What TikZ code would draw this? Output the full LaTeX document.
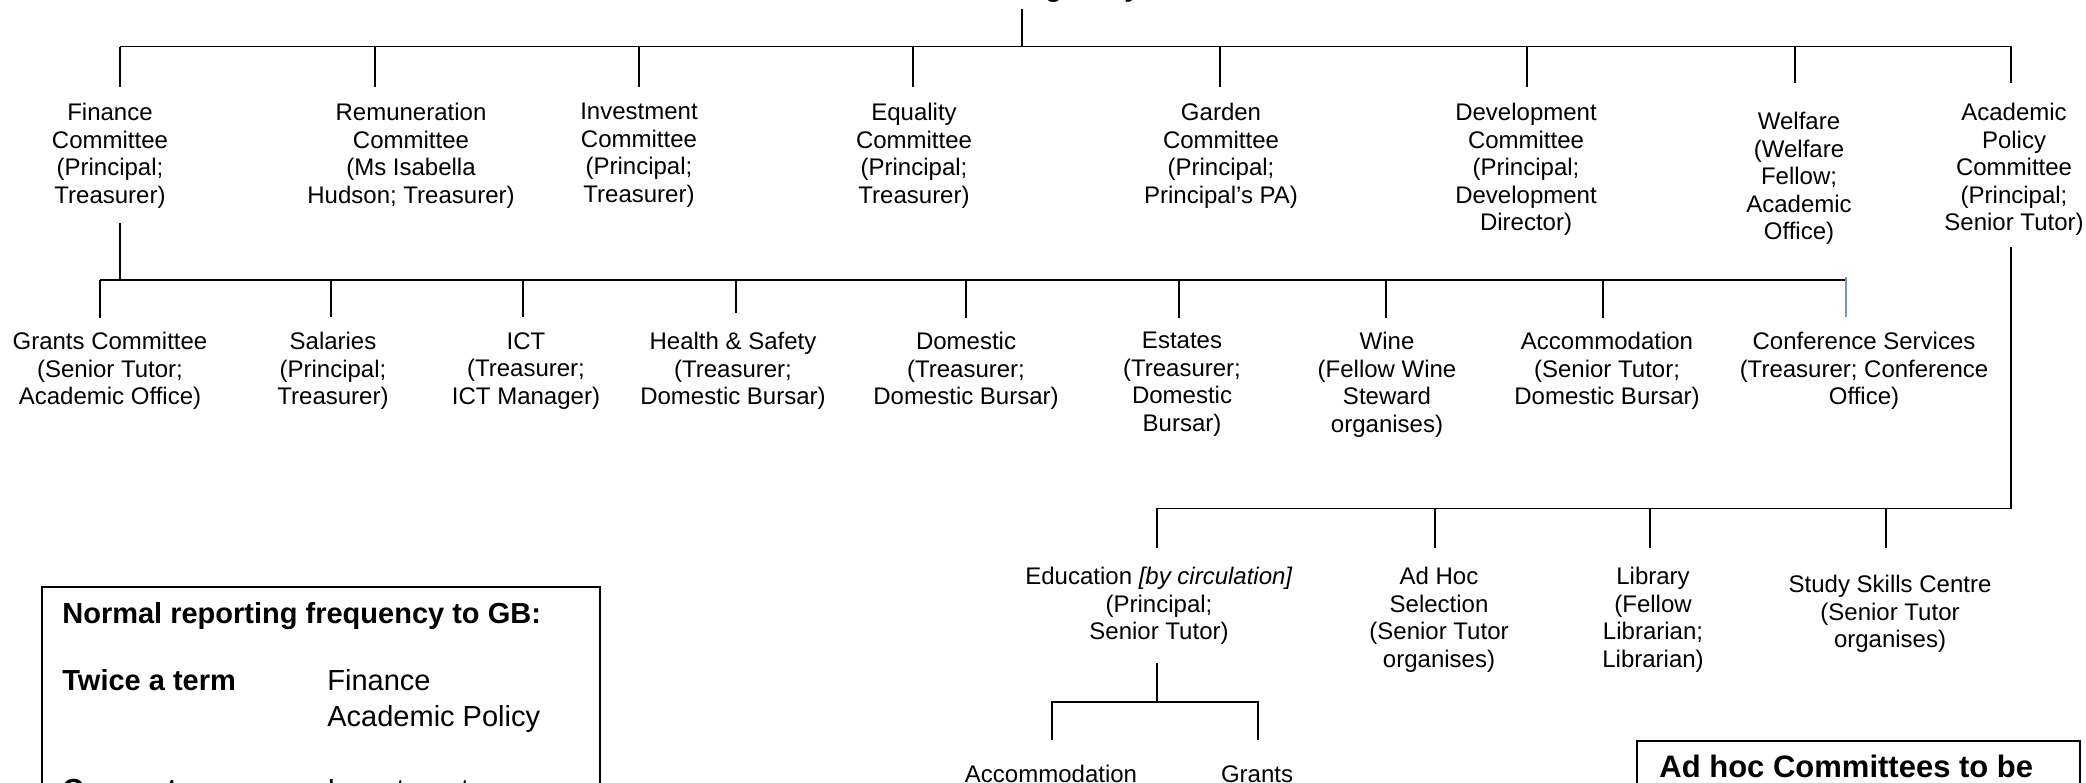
\documentclass[tikz,border=0pt]{standalone}
\usepackage{fontspec}
\setmainfont{Liberation Sans}
\usetikzlibrary{positioning}
\definecolor{linkblue}{RGB}{108,152,208}

\begin{document}
\begin{tikzpicture}[x=0.5pt,y=-0.5pt,
    unit/.style={align=center,anchor=north,inner sep=0pt,font=\fontsize{12}{13.75}\selectfont},
    key/.style={anchor=base west,inner sep=0pt,font=\fontsize{14.5}{18}\selectfont},
    link/.style={draw,line width=0.9pt},
    frame/.style={draw,line width=1pt}]

\useasboundingbox (0,0) rectangle (2086,782);
\clip (0,0) rectangle (2086,782);

% top of the tree
\node[anchor=base,inner sep=0pt,font=\fontsize{14}{16}\selectfont\bfseries] (gb) at (1031,-4) {Governing Body};

% committees reporting to GB
\node[unit] (fin) at (110,103) {Finance\\Committee\\(Principal;\\Treasurer)};
\node[unit] (rem) at (411,103) {Remuneration\\Committee\\(Ms Isabella\\Hudson; Treasurer)};
\node[unit] (inv) at (639,103) {Investment\\Committee\\(Principal;\\Treasurer)};
\node[unit] (equ) at (914,103) {Equality\\Committee\\(Principal;\\Treasurer)};
\node[unit] (gar) at (1221,103) {Garden\\Committee\\(Principal;\\Principal’s PA)};
\node[unit] (dev) at (1526,103) {Development\\Committee\\(Principal;\\Development\\Director)};
\node[unit] (wel) at (1799,112) {Welfare\\(Welfare\\Fellow;\\Academic\\Office)};
\node[unit] (apc) at (2014,103) {Academic\\Policy\\Committee\\(Principal;\\Senior Tutor)};

% under Finance
\node[unit] (gra) at (110,332) {Grants Committee\\(Senior Tutor;\\Academic Office)};
\node[unit] (sal) at (333,332) {Salaries\\(Principal;\\Treasurer)};
\node[unit] (ict) at (526,332) {ICT\\(Treasurer;\\ICT Manager)};
\node[unit] (hs) at (733,332) {Health \& Safety\\(Treasurer;\\Domestic Bursar)};
\node[unit] (dom) at (966,332) {Domestic\\(Treasurer;\\Domestic Bursar)};
\node[unit] (est) at (1182,332) {Estates\\(Treasurer;\\Domestic\\Bursar)};
\node[unit] (win) at (1387,332) {Wine\\(Fellow Wine\\Steward\\organises)};
\node[unit] (acc) at (1607,332) {Accommodation\\(Senior Tutor;\\Domestic Bursar)};
\node[unit] (con) at (1864,332) {Conference Services\\(Treasurer; Conference\\Office)};

% under Academic Policy
\node[unit] (edu) at (1159,567) {Education \textit{[by circulation]}\\(Principal;\\Senior Tutor)};
\node[unit] (adh) at (1439,567) {Ad Hoc\\Selection\\(Senior Tutor\\organises)};
\node[unit] (lib) at (1653,567) {Library\\(Fellow\\Librarian;\\Librarian)};
\node[unit] (ssc) at (1890,575) {Study Skills Centre\\(Senior Tutor\\organises)};

% under Education
\node[unit] (acm) at (1051,765) {Accommodation};
\node[unit] (grt) at (1257,765) {Grants};

% line ends
\coordinate (gb-out) at (1022,9);
\coordinate (fin-out) at (120,223);
\coordinate (apc-out) at (2011,247);
\coordinate (edu-out) at (1157,663);
\coordinate (bus1) at (0,46.5);
\coordinate (bus2) at (0,280);
\coordinate (bus3) at (0,508.5);
\coordinate (bus4) at (0,702);
\foreach \n/\x/\y in {fin/120/87,rem/375/87,inv/639/87,equ/913/87,gar/1220/87,dev/1527/87,wel/1795/83,apc/2011/83,
    gra/100/318,sal/331/317,ict/523/317,hs/736/313,dom/966/318,est/1179/318,win/1386/318,acc/1603/318,con/1846/317,
    edu/1157/548,adh/1435/548,lib/1650/548,ssc/1886/548,acm/1052/740,grt/1258/740}
  \coordinate (\n-in) at (\x,\y);

% connectors
\draw[link] (gb-out) -- (gb-out |- bus1);
\draw[link] (fin-in |- bus1) -- (apc-in |- bus1) -- (apc-in);
\foreach \n in {fin,rem,inv,equ,gar,dev,wel}
  \draw[link] (\n-in |- bus1) -- (\n-in);

\draw[link] (fin-out) -- (fin-out |- bus2);
\draw[link] (gra-in |- bus2) -- (con-in |- bus2);
\foreach \n in {gra,sal,ict,hs,dom,est,win,acc}
  \draw[link] (\n-in |- bus2) -- (\n-in);
\draw[link,linkblue] (con-in |- 0,277) -- (con-in);

\draw[link] (apc-out) -- (apc-out |- bus3) -- (edu-in |- bus3) -- (edu-in);
\foreach \n in {adh,lib,ssc}
  \draw[link] (\n-in |- bus3) -- (\n-in);

\draw[link] (edu-out) -- (edu-out |- bus4);
\draw[link] (acm-in) -- (acm-in |- bus4) -- (grt-in |- bus4) -- (grt-in);

% key boxes
\draw[frame] (42,830) -- (42,587) -- (600,587) -- (600,830);
\node[key,font=\fontsize{14.5}{18}\selectfont\bfseries] (keyhead) at (62,623) {Normal reporting frequency to GB:};
\node[key,font=\fontsize{14.5}{18}\selectfont\bfseries] (twice) at (62,690) {Twice a term};
\node[key] (twicelist) at (327,690) {Finance};
\node[key] (twicelist2) at (327,726) {Academic Policy};
\node[key,font=\fontsize{14.5}{18}\selectfont\bfseries] (once) at (62,799) {Once a term};
\node[key] (oncelist) at (327,799) {Investment};

\draw[frame] (1637,830) -- (1637,741) -- (2080,741) -- (2080,830);
\node[key,font=\fontsize{15.5}{18}\selectfont\bfseries] (adhoc) at (1659,777) {Ad hoc Committees to be};

\end{tikzpicture}
\end{document}
